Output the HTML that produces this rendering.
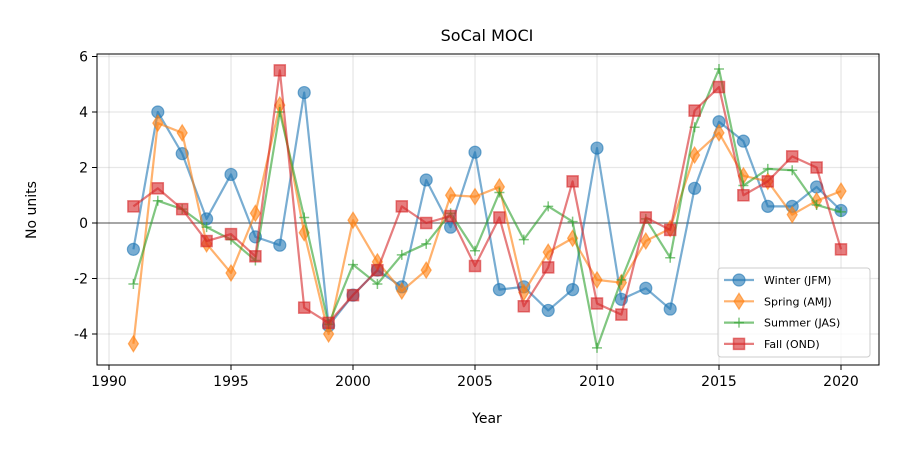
<!DOCTYPE html>
<html><head><meta charset="utf-8"><style>
body{margin:0;background:#fff;}
svg{display:block;font-family:"DejaVu Sans","Liberation Sans",sans-serif;}
</style></head><body>
<svg id="chart" width="900" height="450">
<rect width="900" height="450" fill="#fff"/>
<g id="grid"></g>
<line id="zeroline" stroke="#000" stroke-opacity="0.5" stroke-width="1.3"/>
<g id="series"></g>
<g id="axes"></g>
<text x="487" y="41" text-anchor="middle" font-size="16">SoCal MOCI</text>
<text x="487" y="423" text-anchor="middle" font-size="14">Year</text>
<text x="36" y="210" text-anchor="middle" font-size="14" transform="rotate(-90 36 210)">No units</text>
<g id="legend"></g>
</svg>
<script>
const years=[1991,1992,1993,1994,1995,1996,1997,1998,1999,2000,2001,2002,2003,2004,2005,2006,2007,2008,2009,2010,2011,2012,2013,2014,2015,2016,2017,2018,2019,2020];
const winter=[-0.95,4.0,2.5,0.15,1.75,-0.5,-0.8,4.7,-3.7,-2.6,-1.7,-2.3,1.55,-0.15,2.55,-2.4,-2.3,-3.15,-2.4,2.7,-2.75,-2.35,-3.1,1.25,3.65,2.95,0.6,0.6,1.3,0.45];
const spring=[-4.35,3.6,3.25,-0.75,-1.8,0.35,4.25,-0.35,-4.0,0.1,-1.4,-2.45,-1.7,1.0,0.95,1.3,-2.5,-1.05,-0.55,-2.05,-2.15,-0.65,-0.2,2.45,3.25,1.7,1.5,0.3,0.8,1.15];
const summer=[-2.2,0.8,0.5,-0.15,-0.6,-1.35,4.0,0.2,-3.65,-1.5,-2.2,-1.15,-0.75,0.35,-1.0,1.1,-0.6,0.6,0.05,-4.5,-2.05,0.15,-1.25,3.45,5.55,1.35,1.95,1.9,0.65,0.4];
const fall=[0.6,1.25,0.5,-0.65,-0.4,-1.2,5.5,-3.05,-3.6,-2.6,-1.7,0.6,0.0,0.25,-1.55,0.2,-3.0,-1.6,1.5,-2.9,-3.3,0.2,-0.25,4.05,4.9,1.0,1.5,2.4,2.0,-0.95];
const xTicks=[1990,1995,2000,2005,2010,2015,2020];
const yTicks=[-4,-2,0,2,4,6];
const seriesNames=["Winter (JFM)","Spring (AMJ)","Summer (JAS)","Fall (OND)"];

const NS="http://www.w3.org/2000/svg";
const L=97,R=879,T=54,B=365;
const X=v=>109+(v-1990)*(841-109)/30;
const Y=v=>223-v*27.75;
function mk(tag,attrs,parent){const e=document.createElementNS(NS,tag);for(const k in attrs)e.setAttribute(k,attrs[k]);parent.appendChild(e);return e;}
const grid=document.getElementById('grid'),axes=document.getElementById('axes'),ser=document.getElementById('series'),leg=document.getElementById('legend');
xTicks.forEach(t=>{
 const g=mk('line',{x1:X(t),x2:X(t),y1:T,y2:B,stroke:'#b0b0b0','stroke-opacity':0.3,'stroke-width':1.3},grid);
 
 mk('line',{x1:X(t),x2:X(t),y1:B,y2:B+5,stroke:'#000','stroke-width':1},axes);
 const tx=mk('text',{x:X(t),y:B+21,'text-anchor':'middle','font-size':14},axes);tx.textContent=t;
 
});
yTicks.forEach(t=>{
 const g=mk('line',{x1:L,x2:R,y1:Y(t),y2:Y(t),stroke:'#b0b0b0','stroke-opacity':0.3,'stroke-width':1.3},grid);
 
 mk('line',{x1:L-5,x2:L,y1:Y(t),y2:Y(t),stroke:'#000','stroke-width':1},axes);
 const tx=mk('text',{x:L-9,y:Y(t)+5,'text-anchor':'end','font-size':14},axes);tx.textContent=t;
 
});
const z=document.getElementById('zeroline');z.setAttribute('x1',L);z.setAttribute('x2',R);z.setAttribute('y1',Y(0));z.setAttribute('y2',Y(0));
const frame=mk('rect',{x:L,y:T,width:R-L,height:B-T,fill:'none',stroke:'#000','stroke-width':1},axes);


const colors=['#1f77b4','#ff7f0e','#2ca02c','#d62728'];
const markers=['o','d','+','s'];
const A=0.6;
function marker(type,x,y,c,p){
 let e;
 if(type==='o')e=mk('circle',{cx:x,cy:y,r:6,fill:c,stroke:c,'stroke-width':1.2,'fill-opacity':A,'stroke-opacity':A},p);
 else if(type==='d')e=mk('path',{d:`M${x} ${y-8}L${x+5} ${y}L${x} ${y+8}L${x-5} ${y}Z`,fill:c,stroke:c,'stroke-width':1.2,'fill-opacity':A,'stroke-opacity':A},p);
 else if(type==='s')e=mk('rect',{x:x-5.5,y:y-5.5,width:11,height:11,fill:c,stroke:c,'stroke-width':1.5,'fill-opacity':A,'stroke-opacity':A},p);
 else e=mk('path',{d:`M${x-5} ${y}H${x+5}M${x} ${y-5}V${y+5}`,stroke:c,'stroke-width':1.5,fill:'none','stroke-opacity':A},p);
 return e;
}
[winter,spring,summer,fall].forEach((vals,i)=>{
 const g=mk('g',{},ser);
 
 
 const pl=mk('polyline',{points:vals.map((v,j)=>X(years[j])+','+Y(v)).join(' '),fill:'none',stroke:colors[i],'stroke-width':2.2,'stroke-opacity':A,'stroke-linejoin':'round'},g);
 
 vals.forEach((v,j)=>{const m=marker(markers[i],X(years[j]),Y(v),colors[i],g);
  });
});
const lb=mk('rect',{x:718,y:268,width:152,height:89,rx:3,fill:'#fff','fill-opacity':0.8,stroke:'#ccc','stroke-width':1},leg);

seriesNames.forEach((n,i)=>{
 const y=280+i*21.3;
 const g=mk('g',{},leg);
 
 mk('line',{x1:724,x2:754,y1:y,y2:y,stroke:colors[i],'stroke-width':2.2,'stroke-opacity':A},g);
 marker(markers[i],739,y,colors[i],g);
 const t=mk('text',{x:764,y:y+4,'font-size':11},g);t.textContent=n;
});
</script>
</body></html>
